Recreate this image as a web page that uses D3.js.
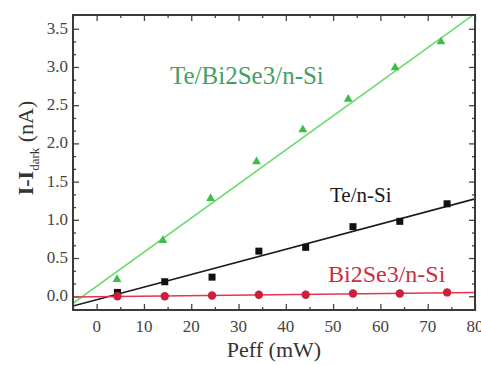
<!DOCTYPE html>
<html>
<head>
<meta charset="utf-8">
<script src="https://cdn.jsdelivr.net/npm/d3@7"></script>
<style>
  body { margin: 0; background: #fff; }
</style>
</head>
<body>
<div id="box"></div>
<script>
// data
const powerX = [4.4, 14.4, 24.4, 34.3, 44.2, 54.2, 64.1, 74.1]
const powerXGreen = [4.3, 14.0, 24.1, 33.8, 43.6, 53.2, 63.1, 72.8]
const teBiSeSi = [0.22, 0.73, 1.28, 1.76, 2.18, 2.58, 2.99, 3.33]
const teSi = [0.05, 0.19, 0.25, 0.59, 0.64, 0.91, 0.98, 1.21]
const biSeSi = [0.0, 0.0, 0.01, 0.02, 0.02, 0.035, 0.035, 0.05]
// linear fits (slope, intercept) in order: green, black, red
const fitSlopes = [0.0446, 0.0165, 0.0007]
const fitIntercepts = [0.13, -0.045, -0.007]
const xTicks = [0, 10, 20, 30, 40, 50, 60, 70, 80]
const yTicks = [0.0, 0.5, 1.0, 1.5, 2.0, 2.5, 3.0, 3.5]

const W = 481, H = 365
const margin = { left: 73, right: 6, top: 15, bottom: 55 }
const innerW = W - margin.left - margin.right
const innerH = H - margin.top - margin.bottom

const x = d3.scaleLinear().domain([-5, 80]).range([margin.left, margin.left + innerW])
const y = d3.scaleLinear().domain([-0.18, 3.68]).range([margin.top + innerH, margin.top])

const svg = d3.select('#box').append('svg')
  .attr('width', W)
  .attr('height', H)

// texts first, straight on the svg
function label(px, py, txt, size, color, anchor) {
  return svg.append('text')
    .attr('x', px).attr('y', py)
    .attr('font-family', 'Liberation Serif')
    .attr('font-size', size)
    .attr('fill', color)
    .attr('text-anchor', anchor || 'start')
    .text(txt)
}

xTicks.forEach(d => label(x(d), margin.top + innerH + 22, d, 17, '#444', 'middle'))
yTicks.forEach(d => label(margin.left - 5, y(d) + 5, d.toFixed(1), 17, '#444', 'end'))

label(170, 84, 'Te/Bi2Se3/n-Si', 25, '#43a064')
label(330, 202, 'Te/n-Si', 21, '#1a1a1a')
label(328, 282, 'Bi2Se3/n-Si', 24, '#c8303f')
label((margin.left * 2 + innerW) / 2, 357, 'Peff (mW)', 22, '#333', 'middle')

const yTitle = svg.append('text')
  .attr('transform', 'translate(33,148) rotate(-90)')
  .attr('text-anchor', 'middle')
  .attr('fill', '#333')
  .attr('font-family', 'Liberation Serif')
  .attr('font-size', 22)
yTitle.append('tspan').attr('font-family', 'Liberation Serif').attr('font-weight', 'bold').text('I-I')
yTitle.append('tspan').attr('font-family', 'Liberation Serif').attr('dy', 6).attr('font-size', 13).text('dark')
yTitle.append('tspan').attr('font-family', 'Liberation Serif').attr('dy', -6).text(' (nA)')

svg.append('clipPath').attr('id', 'clip')
  .append('rect')
  .attr('x', margin.left).attr('y', margin.top)
  .attr('width', innerW).attr('height', innerH)

const tickColor = '#444'

// minor tick positions
const xMinor = d3.range(-5, 81, 5).filter(v => v % 10 !== 0)
const yMinor = d3.range(0, 22).map(i => i * 0.5 / 3).filter((v, i) => i % 3 !== 0 && v < 3.68)

function ticksOn(g, axis, scale, major, minor) {
  g.call(axis(scale).tickValues(major).tickSize(-6).tickFormat(''))
  g.append('g').call(axis(scale).tickValues(minor).tickSize(-3).tickFormat(''))
  g.selectAll('path').remove()
  g.selectAll('text').remove()
  g.selectAll('line').attr('stroke', tickColor).attr('stroke-width', 1.3)
}

svg.append('g').attr('transform', `translate(0,${margin.top + innerH})`)
  .call(g => ticksOn(g, d3.axisBottom, x, xTicks, xMinor))
svg.append('g').attr('transform', `translate(0,${margin.top})`)
  .call(g => ticksOn(g, d3.axisTop, x, xTicks, xMinor))
svg.append('g').attr('transform', `translate(${margin.left},0)`)
  .call(g => ticksOn(g, d3.axisLeft, y, yTicks, yMinor))
svg.append('g').attr('transform', `translate(${margin.left + innerW},0)`)
  .call(g => ticksOn(g, d3.axisRight, y, yTicks, yMinor))

// fit lines
const colors = ['#6ddc6d', '#1a1a1a', '#e2354f']
const plot = svg.append('g').attr('clip-path', 'url(#clip)')
plot.selectAll('line.fit')
  .data(fitSlopes).enter().append('line')
  .attr('class', 'fit')
  .attr('x1', x(-5))
  .attr('y1', (d, i) => y(d * -5 + fitIntercepts[i]))
  .attr('x2', x(80))
  .attr('y2', (d, i) => y(d * 80 + fitIntercepts[i]))
  .attr('stroke', (d, i) => colors[i])
  .attr('stroke-width', 1.6)

// markers
plot.selectAll('path.tri')
  .data(teBiSeSi).enter().append('path')
  .attr('class', 'tri')
  .attr('d', d3.symbol(d3.symbolTriangle, 34)())
  .attr('transform', (d, i) => `translate(${x(powerXGreen[i])},${y(d)})`)
  .attr('fill', '#3cbf4a')

plot.selectAll('rect.sq')
  .data(teSi).enter().append('rect')
  .attr('class', 'sq')
  .attr('x', (d, i) => x(powerX[i]) - 3.5)
  .attr('y', d => y(d) - 3.5)
  .attr('width', 7).attr('height', 7)
  .attr('fill', '#111')

plot.selectAll('circle.dot')
  .data(biSeSi).enter().append('circle')
  .attr('class', 'dot')
  .attr('cx', (d, i) => x(powerX[i]))
  .attr('cy', d => y(d))
  .attr('r', 4.2)
  .attr('fill', '#cc1f3c')

// frame
svg.append('rect')
  .attr('x', margin.left).attr('y', margin.top)
  .attr('width', innerW).attr('height', innerH)
  .attr('fill', 'none')
  .attr('stroke', '#3a3a3a')
  .attr('stroke-width', 2)
</script>
</body>
</html>
